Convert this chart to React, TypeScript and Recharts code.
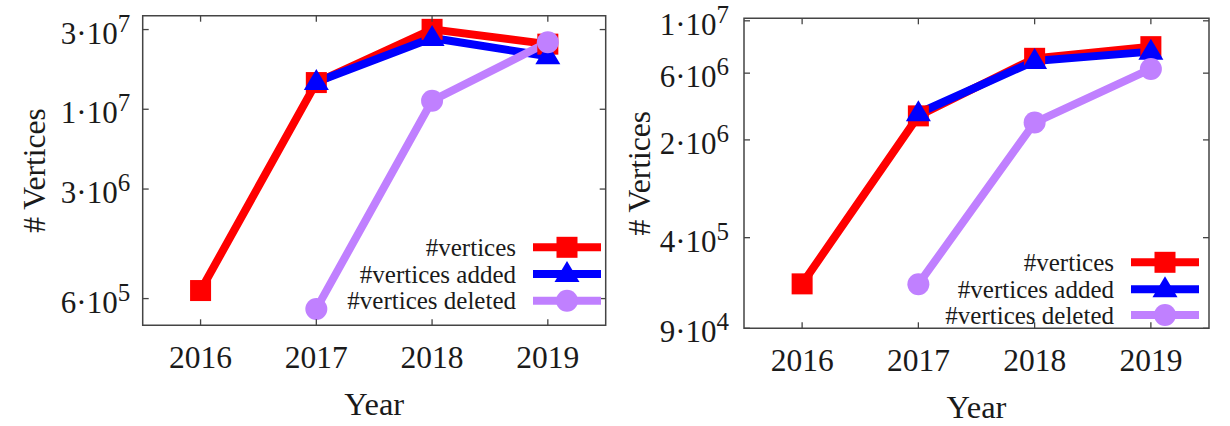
import { LineChart, Line, XAxis, YAxis, ReferenceArea, Legend, Label } from 'recharts'

// ── data ─────────────────────────────────────────────
const years = [2016, 2017, 2018, 2019]
const seriesNames = ['#vertices', '#vertices added', '#vertices deleted']

// left panel
const leftVertices = [7.3e5, 1.47e7, 3.17e7, 2.56e7]
const leftAdded = [null, 1.48e7, 2.8e7, 2.15e7]
const leftDeleted = [null, 5.6e5, 1.13e7, 2.63e7]
const leftTicks = [6.5e5, 3.16e6, 1e7, 3.16e7]
const leftTickMant = ['6', '3', '1', '3']
const leftTickExp = ['5', '6', '7', '7']

// right panel
const rightVertices = [1.87e5, 2.97e6, 7.66e6, 9.28e6]
const rightAdded = [null, 3.1e6, 7.33e6, 8.55e6]
const rightDeleted = [null, 1.86e5, 2.66e6, 6.43e6]
const rightTicks = [9e4, 4e5, 2e6, 6e6, 1.42e7]
const rightTickMant = ['9', '4', '2', '6', '1']
const rightTickExp = ['4', '5', '6', '6', '7']

const FONT = 'Liberation Serif'
const INK = '#1a1a1a'
const FRAME = '#444'

type Shape = 'square' | 'triangle' | 'circle'
const SERIES: { key: string; color: string; shape: Shape }[] = [
  { key: 'vertices', color: '#ff0000', shape: 'square' },
  { key: 'added', color: '#0000ff', shape: 'triangle' },
  { key: 'deleted', color: '#c080ff', shape: 'circle' },
]

function Marker({ shape, cx, cy, color }: { shape: Shape; cx: number; cy: number; color: string }) {
  if (shape === 'square') return <rect x={cx - 10.5} y={cy - 10.5} width={21} height={21} fill={color} />
  if (shape === 'triangle')
    return <polygon points={`${cx},${cy - 13} ${cx - 12.5},${cy + 8} ${cx + 12.5},${cy + 8}`} fill={color} />
  return <circle cx={cx} cy={cy} r={11} fill={color} />
}

interface LegendGeo { left: number; top: number; width: number; height: number; textRight: number; x1: number; x2: number; rows: number[] }

interface PanelProps {
  vertices: (number | null)[]; added: (number | null)[]; deleted: (number | null)[]
  domain: [number, number]; ticks: number[]; mant: string[]; exp: string[]
  margin: { top: number; left: number; right: number; bottom: number }
  labelGap: number; titleGap: number; legend: LegendGeo
}

function Panel({ vertices, added, deleted, domain, ticks, mant, exp, margin, labelGap, titleGap, legend }: PanelProps) {
  const data = years.map((year, i) => ({ year, vertices: vertices[i], added: added[i], deleted: deleted[i] }))
  // axes are 1px thick (0 would not render), so margins give up that pixel
  const m = { top: margin.top - 1, left: margin.left - 1, right: margin.right - 1, bottom: margin.bottom - 1 }

  const yTick = (p: any) => {
    const i = ticks.indexOf(p.payload.value)
    return (
      <g>
        <line x1={p.x} x2={p.x + 6} y1={p.y} y2={p.y} stroke={FRAME} strokeWidth={1.3} />
        <text x={p.x - labelGap} y={p.y + 14} textAnchor="end" fontFamily={FONT} fontSize={31} fill={INK}>
          <tspan>{mant[i]}·10</tspan>
          <tspan dy={-12} fontSize={25}>{exp[i]}</tspan>
        </text>
      </g>
    )
  }
  const yTickR = (p: any) => <line x1={p.x} x2={p.x - 6} y1={p.y} y2={p.y} stroke={FRAME} strokeWidth={1.3} />
  const xTick = (p: any) => (
    <g>
      <line x1={p.x} x2={p.x} y1={p.y} y2={p.y - 6} stroke={FRAME} strokeWidth={1.3} />
      <text x={p.x} y={p.y + 43} textAnchor="middle" fontFamily={FONT} fontSize={31.5} fill={INK}>{p.payload.value}</text>
    </g>
  )
  const xTickT = (p: any) => <line x1={p.x} x2={p.x} y1={p.y} y2={p.y + 6} stroke={FRAME} strokeWidth={1.3} />

  const dot = (shape: Shape, color: string) => (p: any) =>
    p.cy == null || p.value == null
      ? <g key={p.index} />
      : <Marker key={p.index} shape={shape} cx={p.cx} cy={p.cy} color={color} />

  const legendContent = () => (
    <svg width={legend.width} height={legend.height} style={{ display: 'block', overflow: 'visible' }}>
      {SERIES.map((s, i) => {
        const cy = legend.rows[i] - legend.top
        const x1 = legend.x1 - legend.left
        const x2 = legend.x2 - legend.left
        return (
          <g key={s.key}>
            <text x={legend.textRight - legend.left} y={cy + 8.5} textAnchor="end" fontFamily={FONT} fontSize={25} fill={INK}>
              {seriesNames[i]}
            </text>
            <line x1={x1} x2={x2} y1={cy} y2={cy} stroke={s.color} strokeWidth={8} />
            <Marker shape={s.shape} cx={(x1 + x2) / 2} cy={cy} color={s.color} />
          </g>
        )
      })}
    </svg>
  )

  return (
    <LineChart width={615} height={426} data={data} margin={m} style={{ fontFamily: FONT }}>
      <XAxis dataKey="year" type="number" domain={[2015.5, 2019.5]} ticks={years} interval={0}
        height={1} tickSize={0} tickMargin={0} axisLine={false} tick={xTick} allowDataOverflow
        label={<Label content={(p: any) => (
          <text x={p.viewBox.x + p.viewBox.width / 2} y={p.viewBox.y + 89.7} textAnchor="middle"
            fontFamily={FONT} fontSize={32.5} fill={INK}>Year</text>
        )} />} />
      <XAxis xAxisId="top" orientation="top" dataKey="year" type="number" domain={[2015.5, 2019.5]} ticks={years}
        interval={0} height={1} tickSize={0} tickMargin={0} axisLine={false} tick={xTickT} allowDataOverflow />
      <YAxis type="number" scale="log" domain={domain} ticks={ticks} interval={0} allowDataOverflow
        width={1} tickSize={0} tickMargin={0} axisLine={false} tick={yTick}
        label={<Label content={(p: any) => {
          const x = p.viewBox.x + 1 - titleGap
          const y = p.viewBox.y + p.viewBox.height / 2
          return (
            <text x={x} y={y} transform={`rotate(-90 ${x} ${y})`} textAnchor="middle"
              fontFamily={FONT} fontSize={31.5} fill={INK}># Vertices</text>
          )
        }} />} />
      <YAxis yAxisId="right" orientation="right" type="number" scale="log" domain={domain} ticks={ticks}
        interval={0} allowDataOverflow width={1} tickSize={0} tickMargin={0} axisLine={false} tick={yTickR} />
      <ReferenceArea x1={2015.5} x2={2019.5} y1={domain[0]} y2={domain[1]} fill="none" fillOpacity={0}
        stroke={FRAME} strokeWidth={1.5} ifOverflow="visible" />
      {SERIES.map(s => (
        <Line key={s.key} dataKey={s.key} stroke={s.color} strokeWidth={8} isAnimationActive={false}
          activeDot={false} dot={dot(s.shape, s.color)} />
      ))}
      <Legend layout="vertical" align="center" verticalAlign="middle" content={legendContent}
        wrapperStyle={{ left: legend.left, top: legend.top, width: legend.width, height: legend.height }} />
    </LineChart>
  )
}

export default function App() {
  return (
    <div style={{ position: 'absolute', left: 0, top: 0, width: 1230, height: 426, background: '#fff' }}>
      <div style={{ position: 'absolute', left: 0, top: 0 }}>
        <Panel vertices={leftVertices} added={leftAdded} deleted={leftDeleted}
          domain={[4.42e5, 3.86e7]} ticks={leftTicks} mant={leftTickMant} exp={leftTickExp}
          margin={{ top: 15.7, left: 142.7, right: 9.3, bottom: 100.7 }} labelGap={12.5} titleGap={98}
          legend={{ left: 300, top: 225, width: 305, height: 95, textRight: 516, x1: 533, x2: 601, rows: [247.3, 274, 300.7] }} />
      </div>
      <div style={{ position: 'absolute', left: 615, top: 0 }}>
        <Panel vertices={rightVertices} added={rightAdded} deleted={rightDeleted}
          domain={[9e4, 1.48e7]} ticks={rightTicks} mant={rightTickMant} exp={rightTickExp}
          margin={{ top: 18.3, left: 129, right: 21, bottom: 97.7 }} labelGap={15} titleGap={94}
          legend={{ left: 290, top: 238, width: 300, height: 90, textRight: 499, x1: 516, x2: 584, rows: [262.3, 289.3, 315] }} />
      </div>
    </div>
  )
}
